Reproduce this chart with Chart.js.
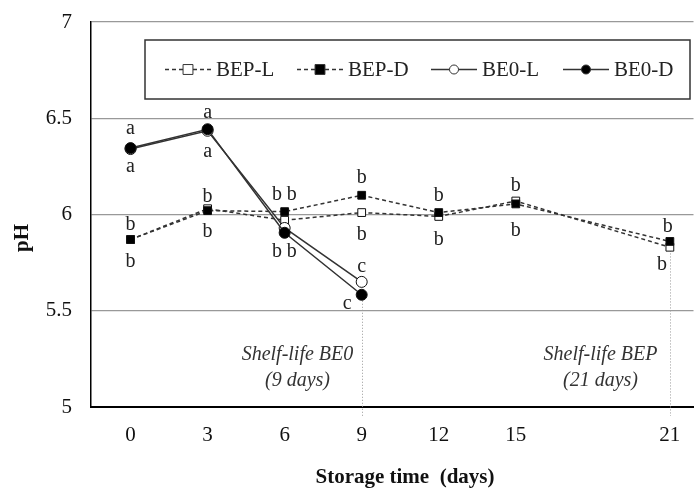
<!DOCTYPE html>
<html>
<head>
<meta charset="utf-8">
<script src="https://cdn.jsdelivr.net/npm/chart.js@4"></script>
<style>
  html, body { margin: 0; padding: 0; background: #fff; }
  #wrap { width: 700px; height: 490px; }
</style>
</head>
<body>
<div id="wrap"><canvas id="ph-chart" width="700" height="490"></canvas></div>
<script>
// --- data ---
const days = [0, 3, 6, 9, 12, 15, 21];
const xTicks = [0, 3, 6, 9, 12, 15, 21];
const yTicks = [5, 5.5, 6, 6.5, 7];

const bepL = [5.87, 6.03, 5.97, 6.01, 5.99, 6.07, 5.83];
const bepD = [5.87, 6.02, 6.015, 6.10, 6.01, 6.055, 5.86];
const be0L = [6.34, 6.435, 5.93, 5.65];
const be0D = [6.345, 6.443, 5.905, 5.583];

const seriesNames = ["BEP-L", "BEP-D", "BE0-L", "BE0-D"];

// significance letters: text, day, pH level where the letter sits
const letterText = ["a", "a", "b", "b", "a", "a", "b", "b", "b", "b", "b", "b",
                    "b", "b", "c", "c", "b", "b", "b", "b", "b", "b"];
const letterDay  = [0, 0, 0, 0, 3, 3, 3, 3, 5.7, 6.28, 5.7, 6.28,
                    9, 9, 9, 8.44, 12, 12, 15, 15, 20.92, 20.69];
const letterPH   = [6.443, 6.25, 5.948, 5.755, 6.531, 6.328, 6.094, 5.911, 6.104, 6.104, 5.807, 5.807,
                    6.193, 5.896, 5.729, 5.536, 6.099, 5.87, 6.151, 5.917, 5.938, 5.74];

// shelf-life markers
const shelfDays = [9, 21];
const shelfTop = [5.583, 5.86];
const noteLine1 = ["Shelf-life BE0", "Shelf-life BEP"];
const noteLine2 = ["(9 days)", "(21 days)"];
const noteDay = [6.5, 18.3];
const notePH = [5.27, 5.135];

const SERIF = "'Liberation Serif', 'Times New Roman', serif";
const INK = "#333";

function pts(vals) {
    return vals.map((v, i) => ({ x: days[i], y: v }));
}

// --- plugin: letters, shelf-life lines, notes, legend, axis titles ---
const extras = {
    id: "extras",
    beforeDatasetsDraw(chart) {
        const { ctx, scales: { x, y } } = chart;
        ctx.save();
        ctx.strokeStyle = "#999";
        ctx.lineWidth = 1;
        ctx.setLineDash([1, 2]);
        shelfDays.forEach((d, i) => {
            const px = Math.round(x.getPixelForValue(d)) + 0.5;
            ctx.beginPath();
            ctx.moveTo(px, y.getPixelForValue(shelfTop[i]));
            ctx.lineTo(px, y.bottom + 9);
            ctx.stroke();
        });
        ctx.restore();
    },
    afterDatasetsDraw(chart) {
        const { ctx, scales: { x, y } } = chart;
        ctx.save();

        // letters
        ctx.fillStyle = "#222";
        ctx.font = "20px " + SERIF;
        ctx.textAlign = "center";
        ctx.textBaseline = "middle";
        letterText.forEach((t, i) => {
            ctx.fillText(t, x.getPixelForValue(letterDay[i]), y.getPixelForValue(letterPH[i]));
        });

        // shelf-life notes
        ctx.fillStyle = "#333";
        ctx.font = "italic 20px " + SERIF;
        noteDay.forEach((d, i) => {
            const px = x.getPixelForValue(d);
            ctx.fillText(noteLine1[i], px, y.getPixelForValue(notePH[0]));
            ctx.fillText(noteLine2[i], px, y.getPixelForValue(notePH[1]));
        });

        // legend box
        const bx = 145, by = 40, bw = 545, bh = 59;
        ctx.fillStyle = "#fff";
        ctx.fillRect(bx, by, bw, bh);
        ctx.strokeStyle = "#333";
        ctx.lineWidth = 1.5;
        ctx.setLineDash([]);
        ctx.strokeRect(bx, by, bw, bh);

        const itemX = [165, 297, 431, 563];
        const cy = by + bh / 2;
        chart.data.datasets.forEach((ds, i) => {
            const lx = itemX[i];
            ctx.strokeStyle = INK;
            ctx.lineWidth = 1.5;
            ctx.setLineDash(ds.borderDash || []);
            ctx.beginPath();
            ctx.moveTo(lx, cy);
            ctx.lineTo(lx + 46, cy);
            ctx.stroke();
            ctx.setLineDash([]);
            ctx.fillStyle = ds.pointBackgroundColor;
            ctx.lineWidth = 1;
            ctx.beginPath();
            if (ds.pointStyle === "rect") {
                const s = ds.pointRadius * 0.9;
                ctx.rect(lx + 23 - s, cy - s, s * 2, s * 2);
            } else {
                ctx.arc(lx + 23, cy, ds.pointRadius - 1, 0, Math.PI * 2);
            }
            ctx.fill();
            ctx.stroke();
            ctx.fillStyle = "#222";
            ctx.font = "21px " + SERIF;
            ctx.textAlign = "left";
            ctx.fillText(ds.label, lx + 51, cy + 1);
        });

        // axis titles
        ctx.fillStyle = "#111";
        ctx.font = "bold 21px " + SERIF;
        ctx.textAlign = "center";
        ctx.fillText("Storage time  (days)", 405, 478);
        ctx.translate(23, 238);
        ctx.rotate(-Math.PI / 2);
        ctx.fillText("pH", 0, 0);
        ctx.restore();
    }
};

function makeSet(label, vals, dashed, filled, style, order) {
    return {
        label: label,
        data: pts(vals),
        borderColor: INK,
        borderWidth: 1.5,
        borderDash: dashed ? [4, 3] : [],
        pointStyle: style,
        pointRadius: 5.5,
        pointBorderWidth: 1,
        pointBorderColor: "#111",
        pointBackgroundColor: filled ? "#000" : "#fff",
        tension: 0,
        fill: false,
        order: order
    };
}

new Chart(document.getElementById("ph-chart"), {
    type: "line",
    data: {
        datasets: [
            makeSet(seriesNames[0], bepL, true, false, "rect", 4),
            makeSet(seriesNames[1], bepD, true, true, "rect", 3),
            makeSet(seriesNames[2], be0L, false, false, "circle", 2),
            makeSet(seriesNames[3], be0D, false, true, "circle", 1)
        ]
    },
    options: {
        responsive: false,
        animation: false,
        layout: { padding: { top: 22, right: 0, left: 0, bottom: 0 } },
        plugins: { legend: { display: false }, tooltip: { enabled: false } },
        scales: {
            x: {
                type: "linear",
                min: -1.54,
                max: 21.92,
                afterBuildTicks: (s) => { s.ticks = xTicks.map(v => ({ value: v })); },
                afterFit: (s) => { s.height = 83; s.paddingLeft = 0; s.paddingRight = 0; },
                grid: { display: false, drawTicks: false },
                border: { display: true, color: "#000", width: 2 },
                ticks: { color: "#111", padding: 16, maxRotation: 0, font: { family: SERIF, size: 21 } }
            },
            y: {
                min: 5,
                max: 7,
                afterBuildTicks: (s) => { s.ticks = yTicks.map(v => ({ value: v })); },
                afterFit: (s) => { s.width = 91; s.paddingTop = 0; s.paddingBottom = 0; },
                grid: { color: "#999", lineWidth: 1.2, drawTicks: false },
                border: { display: true, color: "#000", width: 1.5 },
                ticks: {
                    color: "#111", padding: 19, font: { family: SERIF, size: 21 },
                    callback: (v) => String(v)
                }
            }
        }
    },
    plugins: [extras]
});
</script>
</body>
</html>
